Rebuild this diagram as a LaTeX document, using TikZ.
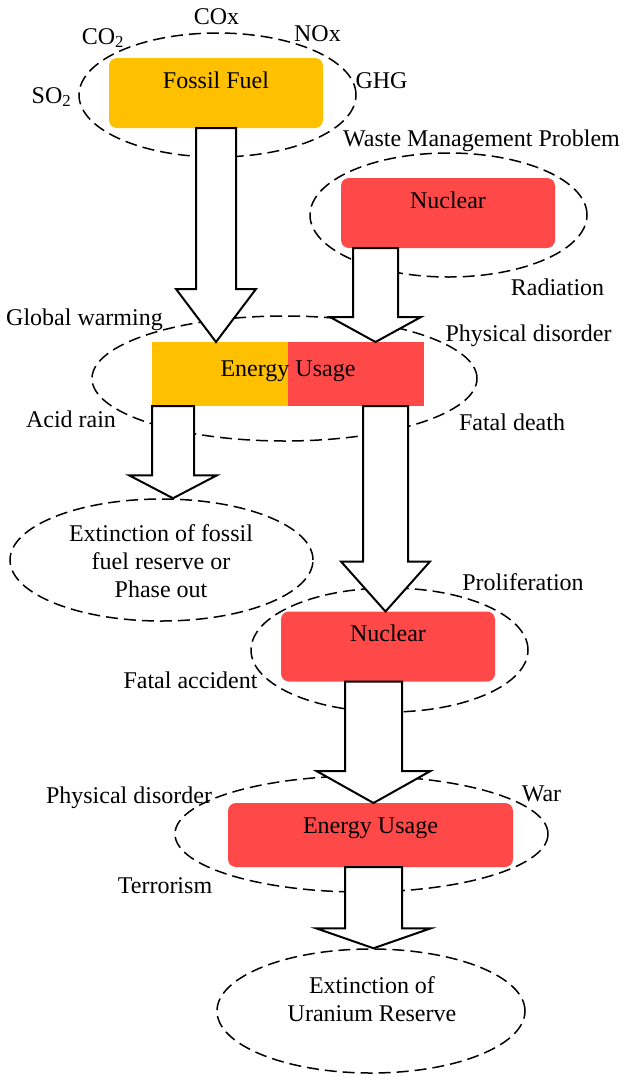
\documentclass[tikz,border=0pt]{standalone}
\usepackage{fontspec}
\setmainfont{Liberation Serif}
\usetikzlibrary{shapes.geometric, calc}

\definecolor{fuel}{HTML}{FFC000}
\definecolor{atom}{HTML}{FF4848}

\tikzset{
  ring/.style={ellipse, draw, dash pattern=on 12pt off 6pt, line width=1.5pt, inner sep=0pt},
  block/.style={inner sep=0pt, outer sep=0pt, text height=30pt, text depth=40pt, rounded corners=8pt},
  fatarrow/.style={draw, fill=white, line width=2pt, line join=miter},
  tag/.style={anchor=base, inner sep=0pt},
}

% block arrow: start point, target node, half shaft, half head, head length
\newcommand{\blockarrow}[5]{%
  \path[fatarrow] let \p1=(#1), \p2=(#2.north) in
    (\x1-#3,\y1) -- (\x1-#3,\y2+#5) -- (\x1-#4,\y2+#5) -- (\x1,\y2)
    -- (\x1+#4,\y2+#5) -- (\x1+#3,\y2+#5) -- (\x1+#3,\y1) -- cycle;}

\begin{document}
\begin{tikzpicture}[x=1pt, y=-1pt, font=\fontsize{24}{28}\selectfont]
  \useasboundingbox (0,0) rectangle (622,1077);

  % Dashed rings
  \node[ring, minimum width=277pt, minimum height=124pt] (fossilring) at (217.5,95) {};
  \node[ring, minimum width=277pt, minimum height=124pt] (nuclearring) at (448.5,215) {};
  \node[ring, minimum width=385pt, minimum height=125pt] (usering) at (284.5,378.5) {};
  \node[ring, minimum width=303pt, minimum height=122pt] (fossilend) at (161.5,560) {};
  \node[ring, minimum width=277pt, minimum height=124pt] (nuclearring2) at (389.5,650) {};
  \node[ring, minimum width=373pt, minimum height=116pt] (usering2) at (361.5,834) {};
  \node[ring, minimum width=308pt, minimum height=124pt] (uraniumend) at (371,1011) {};

  % Sources and usage
  \node[block, fill=fuel, minimum width=214pt] (fossil) at (216,93) {Fossil Fuel};
  \node[block, fill=atom, minimum width=214pt] (nuclear) at (448,213) {Nuclear};
  \node[block, fill=atom, rounded corners=0pt, minimum width=272pt,
        text height=34pt, text depth=30pt,
        path picture={\fill[fuel] (path picture bounding box.south west)
                      rectangle (path picture bounding box.north);}]
        (use) at (288,374) {Energy Usage};
  \node[block, fill=atom, minimum width=214pt] (nuclear2) at (388,646.5) {Nuclear};
  \node[block, fill=atom, minimum width=285pt, text height=30pt, text depth=34pt]
        (use2) at (370.5,835) {Energy Usage};

  % End states
  \node[align=center] (fossiltext) at (161,561) {Extinction of fossil\\fuel reserve or\\Phase out};
  \node[align=center] (uraniumtext) at (372,999) {Extinction of\\Uranium Reserve};

  % Block arrows
  \blockarrow{fossil.south}{use}{20pt}{40pt}{53pt}
  \blockarrow{[xshift=34.5pt]nuclear.south west}{use}{22.5pt}{45.5pt}{25pt}
  \blockarrow{[xshift=21pt]use.south west}{fossilend}{21pt}{44pt}{23pt}
  \blockarrow{[xshift=-38.5pt]use.south east}{nuclear2}{22.5pt}{44.5pt}{50pt}
  \blockarrow{[xshift=92.5pt]nuclear2.south west}{use2}{28.5pt}{57pt}{32pt}
  \blockarrow{[xshift=3pt]use2.south}{uraniumend}{28.5pt}{57.5pt}{20pt}

  % Effects around fossil fuel
  \node[tag] (cox) at (216.5,24) {COx};
  \node[tag] (co2) at (103,44) {CO\textsubscript{2}};
  \node[tag] (nox) at (317.5,41) {NOx};
  \node[tag] (ghg) at (381.5,88) {GHG};
  \node[tag] (so2) at (51.5,103) {SO\textsubscript{2}};

  % Effects around nuclear
  \node[tag] (waste) at (481.5,146) {Waste Management Problem};
  \node[tag] (radiation) at (557.5,295) {Radiation};

  % Effects around energy usage
  \node[tag] (warming) at (84.5,325) {Global warming};
  \node[tag] (disorder) at (528.5,341) {Physical disorder};
  \node[tag] (acid) at (71,427) {Acid rain};
  \node[tag] (death) at (512,430) {Fatal death};

  % Effects of the nuclear path
  \node[tag] (prolif) at (523,590) {Proliferation};
  \node[tag] (accident) at (190.5,688) {Fatal accident};
  \node[tag] (disorder2) at (129,803) {Physical disorder};
  \node[tag] (war) at (541.5,801) {War};
  \node[tag] (terror) at (165,893) {Terrorism};
\end{tikzpicture}
\end{document}
